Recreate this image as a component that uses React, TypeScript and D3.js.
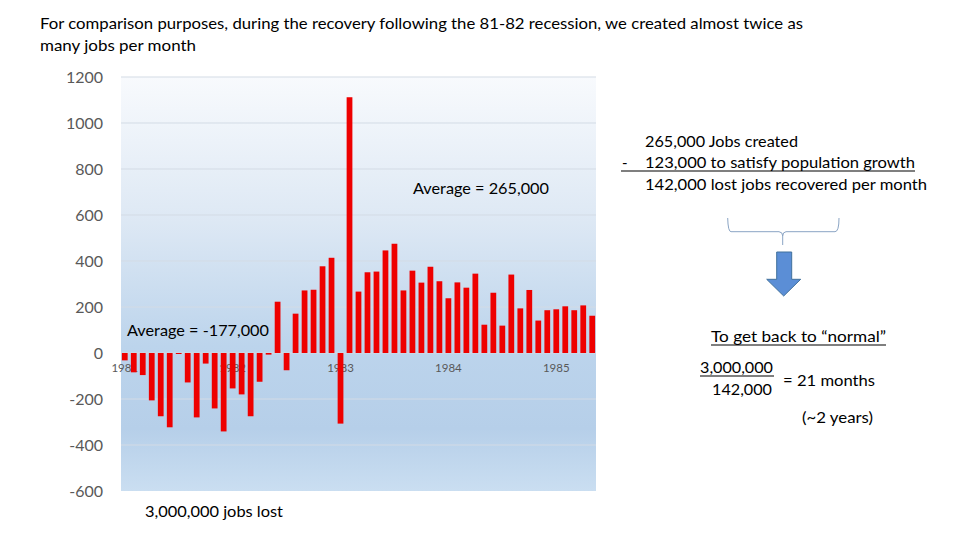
import React from "react";
import * as d3 from "d3";

// Monthly change in nonfarm payrolls (thousands), Aug 1981 – Dec 1985
const months: Date[] = d3.timeMonth.range(new Date(1981, 7, 1), new Date(1986, 0, 1));
const jobChanges: number[] = [
  -32, -84, -96, -206, -275, -323, -4, -128, -280, -46, -241, -341, -154, -180, -275, -125, -7,
  223, -75, 171, 272, 275, 377, 414, -307, 1112, 267, 351, 354, 446, 475, 272, 358, 306, 375,
  312, 238, 307, 284, 345, 123, 262, 119, 341, 194, 274, 141, 186, 190, 203, 186, 207, 162,
];
const yTicks: number[] = [-600, -400, -200, 0, 200, 400, 600, 800, 1000, 1200];
const yearTickIndex: number[] = [0, 12, 24, 36, 48];
const yearTickLabels: string[] = ["1981", "1982", "1983", "1984", "1985"];

const titleLines: string[] = [
  "For comparison purposes, during the recovery following the 81-82 recession, we created almost twice as",
  "many jobs per month",
];

const FONT = "Lato, 'Open Sans', sans-serif";

export default function App() {
  const W = 960, H = 540;
  const left = 121, right = 596, top = 77, bottom = 491;
  const x = d3.scaleBand<number>().domain(d3.range(jobChanges.length)).range([left, right]).paddingInner(0.36).paddingOuter(0.1);
  const y = d3.scaleLinear().domain([-600, 1200]).range([bottom, top]);

  const T = (p: { x: number; y: number; len?: number; size?: number; children: React.ReactNode; fill?: string; weight?: number }) => (
    <text
      x={p.x}
      y={p.y}
      fontSize={p.size ?? 15}
      fontFamily={FONT}
      fill={p.fill ?? "#000"}
      fontWeight={p.weight ?? 400}
      textLength={p.len}
      lengthAdjust={p.len ? "spacingAndGlyphs" : undefined}
    >
      {p.children}
    </text>
  );

  return (
    <svg width={W} height={H} style={{ position: "absolute", left: 0, top: 0, background: "#fff" }}>
      <defs>
        <linearGradient id="bg" x1="0" y1="0" x2="0" y2="1">
          <stop offset="0" stopColor="#f8fafd" />
          <stop offset="0.35" stopColor="#dde8f4" />
          <stop offset="0.65" stopColor="#bcd4ec" />
          <stop offset="0.85" stopColor="#b6cfe9" />
          <stop offset="1" stopColor="#cadef1" />
        </linearGradient>
      </defs>

      {/* title */}
      <T x={40} y={29} len={763}>{titleLines[0]}</T>
      <T x={40} y={51} len={156}>{titleLines[1]}</T>

      {/* plot background */}
      <rect x={left} y={top} width={right - left} height={bottom - top} fill="url(#bg)" />
      {yTicks.filter((t) => t !== -600).map((t) => (
        <line key={t} x1={left} x2={right} y1={y(t)} y2={y(t)} stroke="#d3dbe5" strokeWidth={1} />
      ))}

      {/* y axis labels */}
      {yTicks.map((t) => (
        <text key={t} x={103} y={y(t) + 5.5} textAnchor="end" fontSize={16} fontFamily={FONT} fill="#595959">
          {t}
        </text>
      ))}

      {/* year labels (behind bars) */}
      {yearTickIndex.map((i, k) => (
        <text key={k} x={(x(i) ?? 0) + x.bandwidth() / 2} y={372} textAnchor="middle" fontSize={11.5} fontFamily={FONT} fill="#595959">
          {yearTickLabels[k]}
        </text>
      ))}

      {/* bars */}
      {jobChanges.map((v, i) => (
        <rect
          key={months[i].getTime()}
          x={x(i)}
          y={Math.min(y(v), y(0))}
          width={x.bandwidth()}
          height={Math.max(1, Math.abs(y(v) - y(0)))}
          fill="#ee0000"
        />
      ))}

      {/* chart annotations */}
      <T x={413} y={194} len={136}>Average = 265,000</T>
      <T x={127} y={336} len={142}>Average = -177,000</T>
      <T x={145} y={517} len={138}>3,000,000 jobs lost</T>

      {/* right-side calculation */}
      <T x={645} y={147} len={153}>265,000 Jobs created</T>
      <T x={622} y={168}>-</T>
      <T x={645} y={168} len={270}>123,000 to satisfy population growth</T>
      <line x1={621} x2={915} y1={171} y2={171} stroke="#000" strokeWidth={1.2} />
      <T x={645} y={190} len={282}>142,000 lost jobs recovered per month</T>

      {/* brace */}
      <path
        d="M727.7,218 Q728,231.7 731,231.7 L779,231.7 Q782.7,232 782.7,236 L782.7,245 M782.7,236 Q782.7,232 786,231.7 L835,231.7 Q839,231.7 839,218"
        fill="none"
        stroke="#8aa4c4"
        strokeWidth={1}
      />

      {/* arrow */}
      <path
        d="M776.7,252 L791.7,252 L791.7,279.3 L800.7,279.3 L783.7,296 L766.7,279.3 L776.7,279.3 Z"
        fill="#5b8ed6"
        stroke="#41719c"
        strokeWidth={1}
      />

      <T x={711} y={342} len={175}>To get back to “normal”</T>
      <line x1={711} x2={886} y1={345} y2={345} stroke="#000" strokeWidth={1.2} />
      <T x={700} y={373} len={73}>3,000,000</T>
      <line x1={700} x2={774} y1={376} y2={376} stroke="#000" strokeWidth={1.2} />
      <T x={712} y={395} len={60}>142,000</T>
      <T x={783} y={386} len={92}>= 21 months</T>
      <T x={802} y={423} len={71}>(~2 years)</T>
    </svg>
  );
}
